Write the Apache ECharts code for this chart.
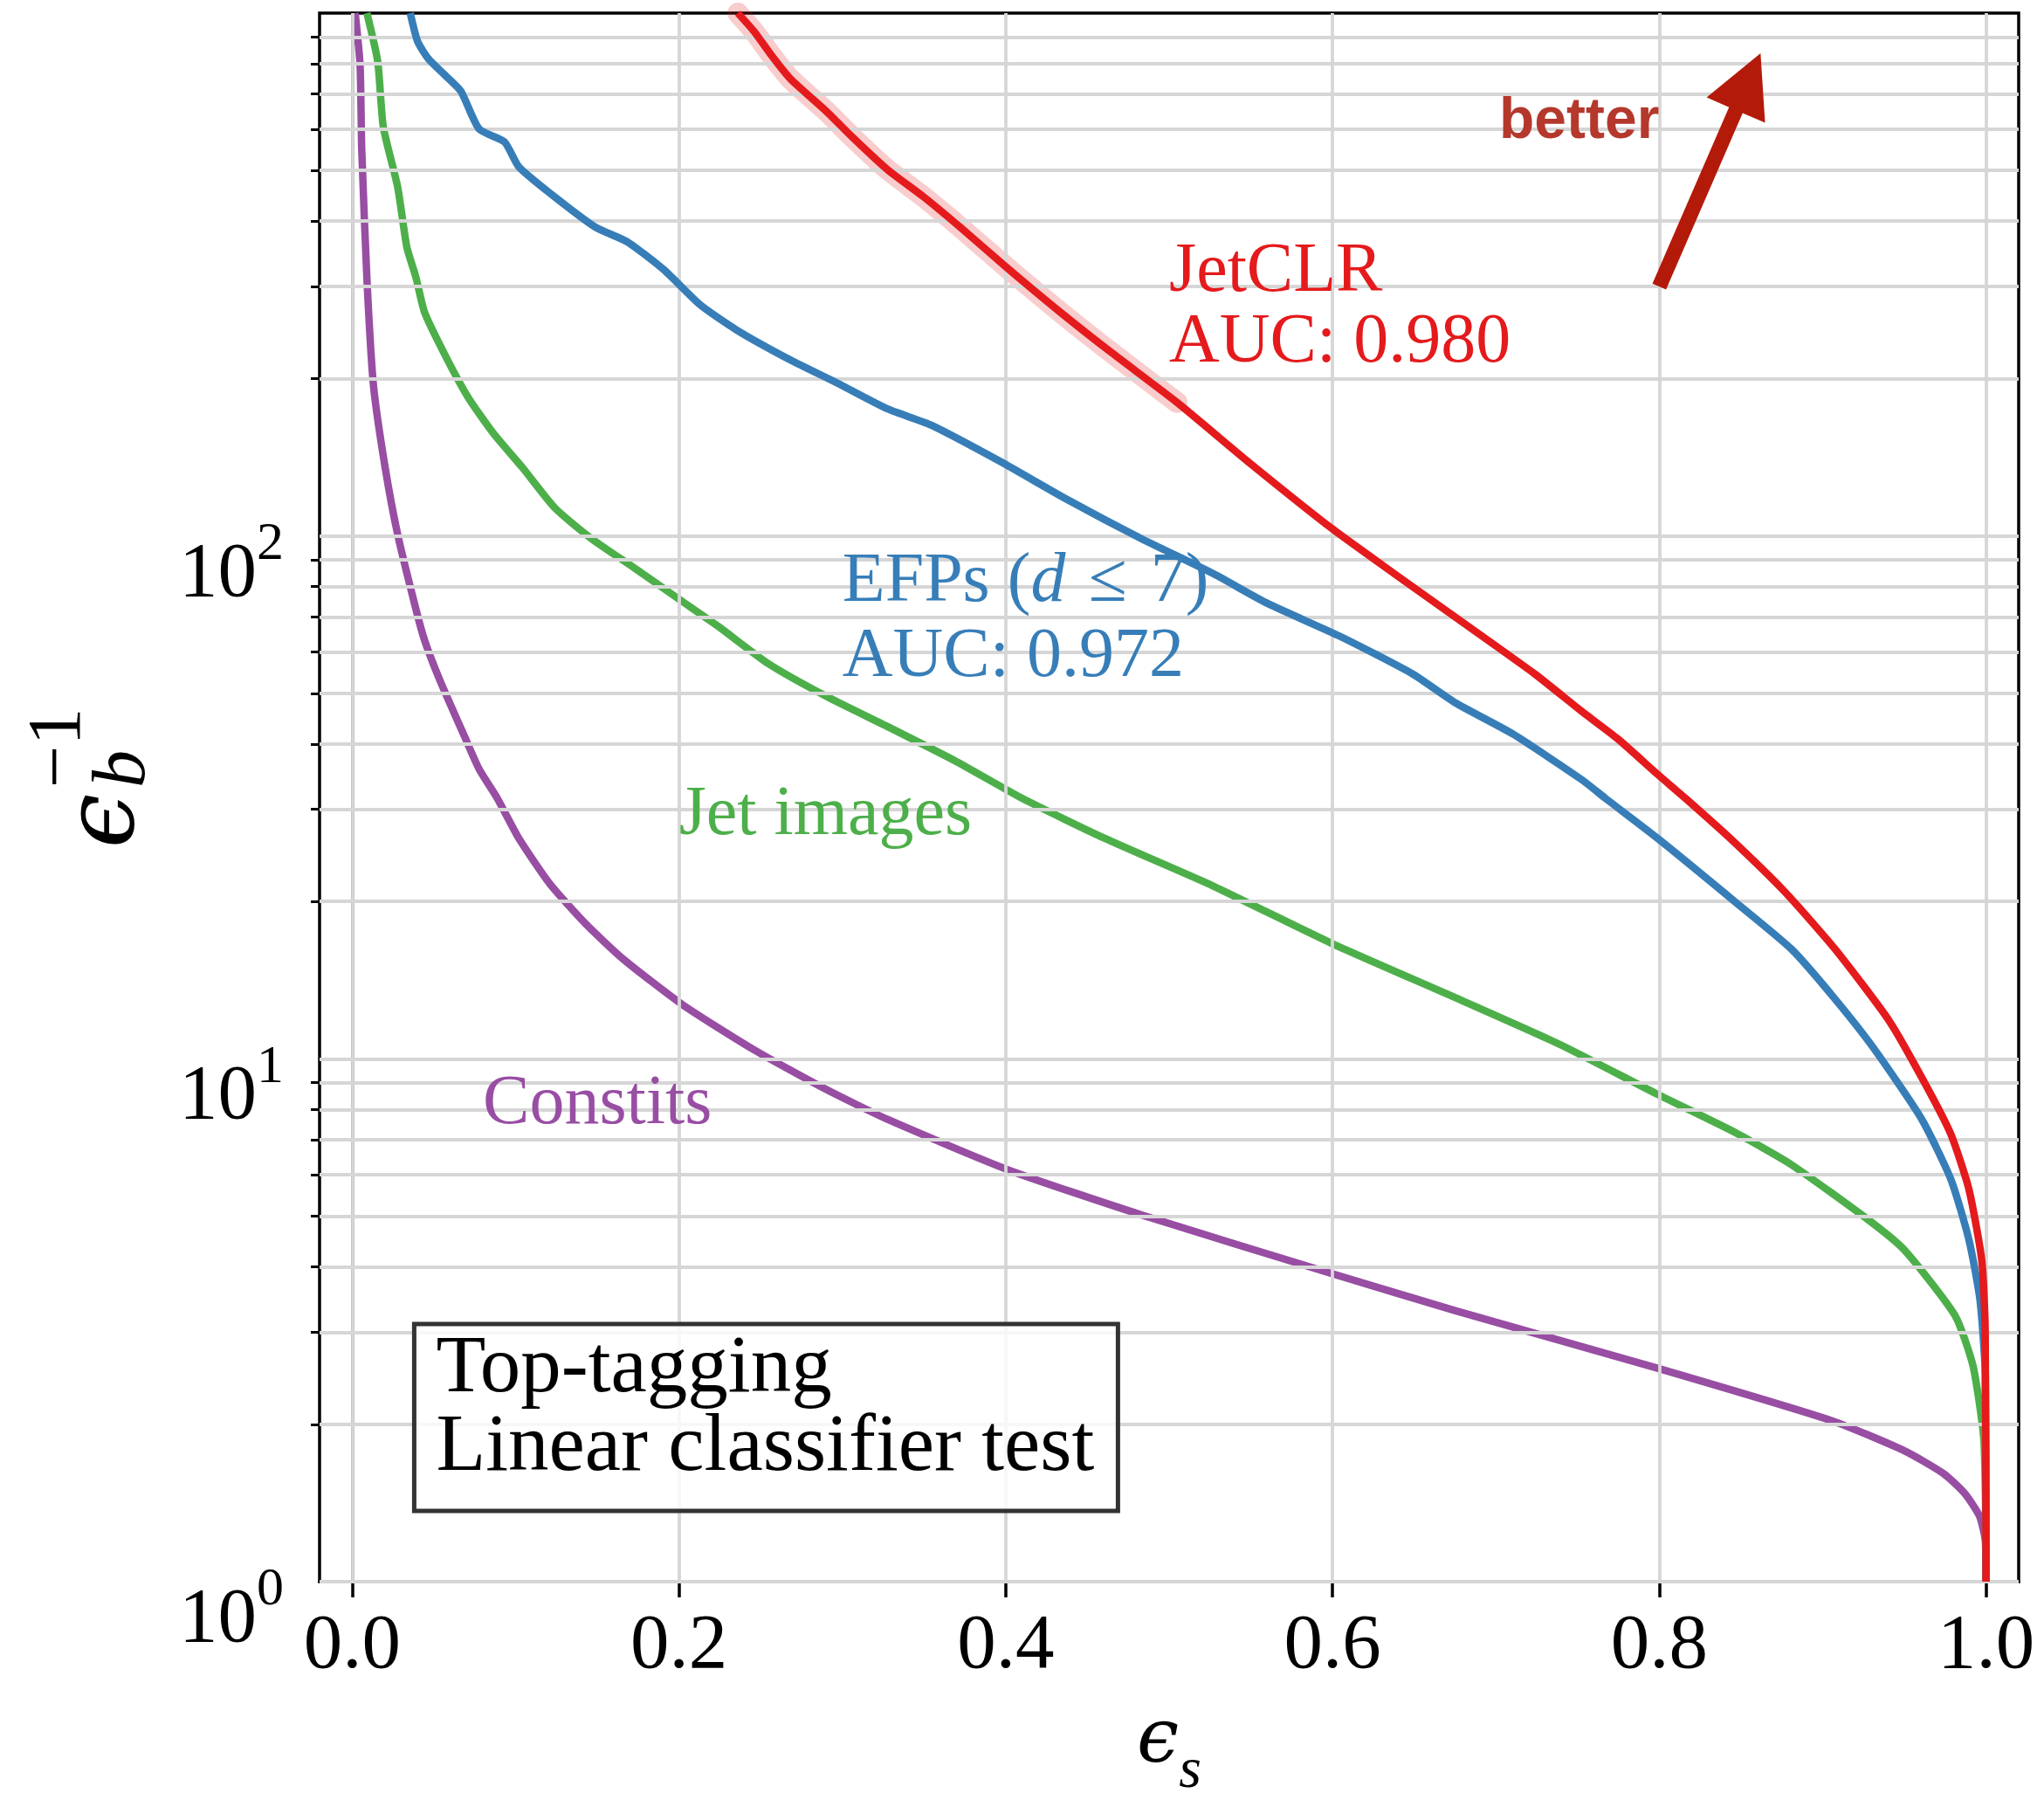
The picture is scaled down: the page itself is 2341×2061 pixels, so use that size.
<!DOCTYPE html>
<html><head><meta charset="utf-8">
<script src="https://cdn.jsdelivr.net/npm/echarts@6/dist/echarts.min.js"></script>
<style>html,body{margin:0;padding:0;background:#fff}#c{width:2341px;height:2061px}</style>
</head><body><div id="c"></div>
<script>
// ---- data ----
const xTickValues = [0, 0.2, 0.4, 0.6, 0.8, 1.0];
const yMajorTicks = [1, 10, 100];
const yMinorTicks = [2,3,4,5,6,7,8,9,20,30,40,50,60,70,80,90,200,300,400,500,600,700,800,900];

const jetclrX = [0.236, 0.246, 0.2571, 0.2683, 0.2904, 0.3059, 0.3276, 0.3498, 0.3719, 0.4007, 0.434, 0.4649, 0.5049, 0.5492, 0.6002, 0.6378, 0.675, 0.7237, 0.7525, 0.7747, 0.799, 0.816, 0.8434, 0.8766, 0.9077, 0.9409, 0.963, 0.9786, 0.9896, 0.9974, 0.9995, 1.0];
const jetclrY = [1000, 922, 826, 748, 648, 580, 502, 445, 390, 326, 267, 224, 180, 138, 103, 84.7, 70.0, 54.5, 46.2, 40.9, 35.0, 31.5, 26.4, 20.9, 16.2, 11.8, 8.93, 7.16, 5.62, 4.12, 3.03, 1.0];

const efpsX = [0.0355, 0.040, 0.0467, 0.0577, 0.0666, 0.0777, 0.0932, 0.102, 0.122, 0.1486, 0.1685, 0.1907, 0.2128, 0.235, 0.2683, 0.297, 0.3276, 0.3542, 0.3963, 0.4384, 0.4827, 0.527, 0.5602, 0.6045, 0.6489, 0.675, 0.7104, 0.7525, 0.767, 0.799, 0.8478, 0.881, 0.9077, 0.932, 0.9608, 0.9786, 0.9896, 0.9963, 0.9996, 1.0];
const efpsY = [1000, 883, 817, 756, 708, 600, 567, 508, 450, 390, 365, 323, 277, 248, 217, 196, 175, 163, 139, 117, 98.9, 84.7, 74.3, 64.3, 54.5, 48.0, 41.8, 34.2, 31.5, 26.4, 19.8, 16.2, 13.0, 10.4, 7.65, 5.87, 4.50, 3.46, 2.48, 1.0];

const jetImagesX = [0.009, 0.0156, 0.019, 0.0278, 0.0334, 0.0389, 0.0444, 0.0577, 0.071, 0.0865, 0.1043, 0.1242, 0.1463, 0.173, 0.1995, 0.2239, 0.255, 0.2904, 0.3276, 0.37, 0.41, 0.4606, 0.527, 0.600, 0.675, 0.739, 0.799, 0.846, 0.881, 0.928, 0.950, 0.981, 0.992, 0.9985, 0.9997, 1.0];
const jetImagesY = [1000, 808, 606, 465, 357, 313, 267, 219, 184, 157, 135, 113, 98.9, 86.7, 75.9, 67.2, 56.9, 49.3, 43.2, 37.0, 31.5, 26.4, 21.4, 16.6, 13.1, 10.66, 8.55, 7.24, 6.27, 4.92, 4.31, 3.23, 2.59, 1.90, 1.43, 1.0];

const constitsX = [0.0018, 0.0048, 0.0058, 0.0091, 0.013, 0.020, 0.028, 0.0392, 0.0444, 0.0533, 0.0688, 0.0777, 0.0888, 0.102, 0.121, 0.143, 0.166, 0.202, 0.246, 0.290, 0.328, 0.401, 0.483, 0.600, 0.675, 0.799, 0.906, 0.950, 0.974, 0.987, 0.996, 0.9996, 1.0];
const constitsY = [1000, 795, 550, 305, 194, 136, 100, 72.0, 63.0, 53.3, 41.3, 35.8, 31.5, 26.4, 21.6, 18.1, 15.5, 12.7, 10.4, 8.74, 7.65, 6.14, 5.03, 3.88, 3.30, 2.56, 2.03, 1.78, 1.61, 1.475, 1.335, 1.196, 1.0];

const bandMaxX = 0.505;   // extent of the JetCLR uncertainty band

// annotation texts and their anchors (data coordinates, anchor = left / bottom)
const annotationText = [
  'JetCLR\nAUC: 0.980',
  '{n|EFPs (}{i|d}{n|\u2004≤\u20047)}\nAUC: 0.972',
  'Jet images',
  'Constits'
];
const annotationX = [0.5, 0.3, 0.2, 0.08];
const annotationY = [200, 50, 25, 7];
const betterPos = [0.702, 618];
const arrowTail = [0.8, 300];
const arrowTip = [0.862, 838];
const boxLines = 'Top-tagging\nLinear classifier test';

// ---- style ----
const RED = '#e41a1c', BLUE = '#377eb8', GREEN = '#4daf4a', PURPLE = '#984ea3';
const SERIF = 'Liberation Serif';
const GREEK = 'DejaVu Serif';
const GRID_C = '#d6d6d6';
const LW = 8.5;

function pairs(xs, ys) { return xs.map((x, i) => [x, ys[i]]); }
function curve(name, xs, ys, color, z) {
  return {
    name, type: 'line', data: pairs(xs, ys), showSymbol: false, symbol: 'none',
    xAxisIndex: 0, yAxisIndex: 0, z: z, silent: true, animation: false,
    smooth: 0.2,
    lineStyle: { color: color, width: LW, join: 'round', cap: 'butt' }
  };
}
const bandIdx = jetclrX.map((x, i) => i).filter(i => jetclrX[i] <= bandMaxX);
const bandX = bandIdx.map(i => jetclrX[i]);
const bandY = bandIdx.map(i => jetclrY[i]);

const chart = echarts.init(document.getElementById('c'), null, { renderer: 'canvas' });

const option = {
  animation: false,
  backgroundColor: '#fff',
  grid: {
    left: 366, top: 15, width: 1946, height: 1796,
    show: true, borderColor: '#000', borderWidth: 3.5, backgroundColor: 'transparent',
    containLabel: false, outerBoundsMode: 'none'
  },
  xAxis: {
    type: 'value', min: -0.02, max: 1.02,
    axisLine: { show: true, onZero: false, lineStyle: { color: '#000', width: 3.5 } },
    axisTick: { show: true, customValues: xTickValues, length: 18, lineStyle: { color: '#000', width: 3.5 } },
    axisLabel: {
      customValues: xTickValues, formatter: v => v.toFixed(1),
      fontFamily: SERIF, fontSize: 89, color: '#000', margin: 30
    },
    splitLine: { show: false },
    name: '{e|\u03F5}{s|s}', nameLocation: 'middle', nameGap: 141,
    nameTextStyle: {
      rich: {
        e: { fontFamily: GREEK, fontStyle: 'italic', fontSize: 86, lineHeight: 110, verticalAlign: 'top', color: '#000' },
        s: { fontFamily: SERIF, fontStyle: 'italic', fontSize: 66, lineHeight: 66, verticalAlign: 'bottom', color: '#000' }
      }
    }
  },
  yAxis: [
    {
      type: 'log', logBase: 10, min: 1, max: 1000, position: 'left',
      axisLine: { show: true, lineStyle: { color: '#000', width: 3.5 } },
      axisTick: { show: true, customValues: yMajorTicks, length: 19, lineStyle: { color: '#000', width: 3.5 } },
      axisLabel: {
        customValues: yMajorTicks, margin: 41, padding: [68, 0, 0, 0],
        formatter: v => '{b|10}{s|' + Math.round(Math.log10(v)) + '}',
        rich: {
          b: { fontFamily: SERIF, fontSize: 89, lineHeight: 110, verticalAlign: 'bottom', color: '#000' },
          s: { fontFamily: SERIF, fontSize: 62, lineHeight: 62, verticalAlign: 'top', color: '#000' }
        }
      },
      splitLine: { show: false }
    },
    {
      type: 'log', logBase: 10, min: 1, max: 1000, position: 'left', offset: 0,
      axisLine: { show: false },
      axisTick: { show: true, customValues: yMinorTicks, length: 10, lineStyle: { color: '#000', width: 3 } },
      axisLabel: { show: false },
      splitLine: { show: false }
    }
  ],
  series: [
    {
      name: 'grid', type: 'line', data: [[0.5, 1]], symbol: 'none', showSymbol: false,
      lineStyle: { opacity: 0 }, z: 1, silent: true, xAxisIndex: 0, yAxisIndex: 0,
      markLine: {
        silent: true, symbol: ['none', 'none'], animation: false,
        label: { show: false },
        lineStyle: { color: GRID_C, width: 3.8, type: 'solid' },
        data: yMajorTicks.concat(yMinorTicks).map(v => ({ yAxis: v }))
          .concat(xTickValues.map(v => ({ xAxis: v })))
      }
    },
    {
      name: 'band', type: 'line', data: pairs(bandX, bandY), showSymbol: false, symbol: 'none',
      z: 2, silent: true, smooth: 0.2,
      lineStyle: { color: 'rgba(228,26,28,0.22)', width: 24, join: 'round', cap: 'round' }
    },
    curve('Constits', constitsX, constitsY, PURPLE, 3),
    curve('Jet images', jetImagesX, jetImagesY, GREEN, 4),
    curve('EFPs', efpsX, efpsY, BLUE, 5),
    curve('JetCLR', jetclrX, jetclrY, RED, 6)
  ]
};
chart.setOption(option);

// ---- annotations positioned through the chart's own scales ----
const toPx = p => chart.convertToPixel({ xAxisIndex: 0, yAxisIndex: 0 }, p);
const colors = [RED, BLUE, GREEN, PURPLE];
const graphics = [];
annotationText.forEach((t, i) => {
  const p = toPx([annotationX[i], annotationY[i]]);
  const c = colors[i];
  graphics.push({
    type: 'text', x: p[0], y: p[1], z: 20, silent: true,
    style: {
      text: t, fill: c, fontFamily: SERIF, fontSize: 80, lineHeight: 81,
      align: 'left', verticalAlign: 'bottom',
      rich: {
        n: { fill: c, fontFamily: SERIF, fontSize: 80, lineHeight: 91 },
        i: { fill: c, fontFamily: SERIF, fontStyle: 'italic', fontSize: 80, lineHeight: 91 }
      }
    }
  });
});
// "better" label
const bp = toPx(betterPos);
graphics.push({
  type: 'text', x: bp[0], y: bp[1], z: 20, silent: true,
  style: { text: 'better', fill: '#b5382c', fontFamily: 'Liberation Sans', fontWeight: 'bold', fontSize: 66, align: 'left', verticalAlign: 'middle' }
});
// arrow
const t0 = toPx(arrowTail), t1 = toPx(arrowTip);
(function () {
  const dx = t1[0] - t0[0], dy = t1[1] - t0[1];
  const L = Math.hypot(dx, dy), ux = dx / L, uy = dy / L, nx = -uy, ny = ux;
  const w = 8.5, hw = 36.5, hl = 71;
  const bx = t1[0] - ux * hl, by = t1[1] - uy * hl;
  const pts = [
    [t0[0] + nx * w, t0[1] + ny * w], [bx + nx * w, by + ny * w], [bx + nx * hw, by + ny * hw],
    [t1[0], t1[1]],
    [bx - nx * hw, by - ny * hw], [bx - nx * w, by - ny * w], [t0[0] - nx * w, t0[1] - ny * w]
  ];
  graphics.push({ type: 'polygon', z: 20, silent: true, shape: { points: pts }, style: { fill: '#b41a0a' } });
})();
// info box anchored to the lower-left corner of the axes
const corner = toPx([-0.02, 1]);
const boxX = corner[0] + 108.4, boxH = 214, boxY = corner[1] - 81 - boxH;
graphics.push({
  type: 'rect', z: 15, silent: true,
  shape: { x: boxX, y: boxY, width: 806, height: boxH },
  style: { fill: 'rgba(255,255,255,0.8)', stroke: '#333', lineWidth: 5 }
});
graphics.push({
  type: 'text', z: 16, silent: true, x: boxX + 25, y: boxY + 8,
  style: { text: boxLines, fill: '#000', fontFamily: SERIF, fontSize: 93, lineHeight: 90, align: 'left', verticalAlign: 'top' }
});
// y-axis title: epsilon_b^{-1}, rotated (reads bottom to top)
graphics.push({
  type: 'group', x: 134, y: 940, rotation: Math.PI / 2, z: 20, silent: true,
  children: [
    { type: 'text', x: 0, y: -11, style: { text: '\u03F5', fill: '#000', fontFamily: GREEK, fontStyle: 'italic', fontSize: 112, align: 'center', verticalAlign: 'middle' } },
    { type: 'text', x: 38, y: 8, style: { text: 'b', fill: '#000', fontFamily: SERIF, fontStyle: 'italic', fontSize: 86, align: 'left', verticalAlign: 'middle' } },
    { type: 'text', x: 38, y: -66, style: { text: '\u22121', fill: '#000', fontFamily: SERIF, fontSize: 86, align: 'left', verticalAlign: 'middle' } }
  ]
});
chart.setOption({ graphic: graphics });
</script>
</body></html>
